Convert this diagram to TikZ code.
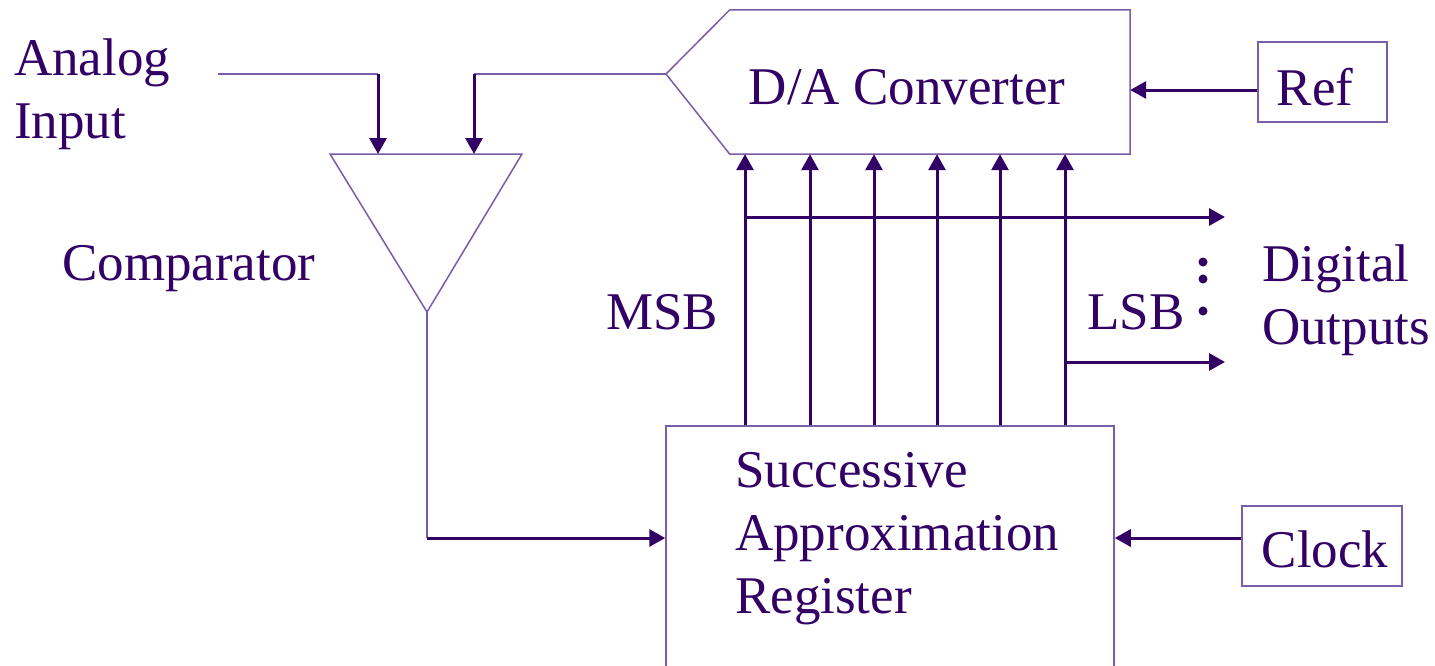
\documentclass[tikz,border=0pt]{standalone}
\usepackage{fontspec}
\setmainfont{Liberation Serif}
\usetikzlibrary{arrows.meta}
\definecolor{ink}{HTML}{330066}
\definecolor{edge}{HTML}{7A5CA8}
\begin{document}
\begin{tikzpicture}[x=1pt,y=-1pt,
  lbl/.style={text=ink,font=\fontsize{53}{63}\selectfont,inner sep=0pt,align=left},
  box/.style={draw=edge,line width=1.5pt,inner sep=0pt},
  wire/.style={draw=ink,line width=3pt},
  thinwire/.style={draw=edge,line width=1.5pt},
  tip/.style={-{Triangle[length=16pt,width=17pt]}},
  ]
\useasboundingbox (0,0) rectangle (1435,665);
\clip (0,0) rectangle (1435,665);
\fill[white] (0,0) rectangle (1435,665);

% blocks
\node[minimum width=400pt,minimum height=144pt,inner sep=0pt] (dac) at (930,82) {};
\coordinate (dacin) at (666,74);
\draw[thinwire,line join=miter] (dac.north west) -- (dac.north east) -- (dac.south east) -- (dac.south west) -- (dacin) -- cycle;
\node[lbl,anchor=base] (dactext) at (907,104) {D/A Converter};

\node[box,minimum width=129pt,minimum height=80pt] (ref) at (1322.5,82) {};
\node[lbl,anchor=base] (reftext) at (1315,105) {Ref};

\node[box,minimum width=160pt,minimum height=80pt] (clock) at (1322,546) {};
\node[lbl,anchor=base] (clocktext) at (1325,567) {Clock};

\node[box,minimum width=448pt,minimum height=274pt] (sar) at (890,563) {};
\node[lbl,anchor=north west] (sartext) at (735,452) {Successive\\Approximation\\Register};

% comparator
\coordinate (cmpL) at (330,154);
\coordinate (cmpR) at (522,154);
\coordinate (cmpO) at (427,312);
\coordinate (cmpA) at (378,154);
\coordinate (cmpB) at (474,154);
\draw[thinwire,line join=miter] (cmpL) -- (cmpR) -- (cmpO) -- cycle;

% labels
\node[lbl,anchor=north west] (analog) at (14,39) {Analog\\Input};
\node[lbl,anchor=base west] (cmplbl) at (62,280) {Comparator};
\node[lbl,anchor=base west] (msb) at (606,329) {MSB};
\node[lbl,anchor=base west] (lsb) at (1087,329) {LSB};
\node[lbl,anchor=north west] (dout) at (1262,245) {Digital\\Outputs};

% analog input
\coordinate (ain) at (218,74);
\draw[thinwire] (ain) -- (cmpA |- ain);
\draw[wire,tip] (cmpA |- ain) -- (cmpA);
% feedback from DAC
\draw[thinwire] (dacin) -- (cmpB |- dacin);
\draw[wire,tip] (cmpB |- dacin) -- (cmpB);
% comparator output to SAR
\coordinate (cmpturn) at (427,538);
\draw[thinwire] (cmpO) -- (cmpturn);
\draw[wire,tip] (cmpturn) -- (sar.west |- cmpturn);

% ref and clock
\draw[wire,tip] (ref.west |- 0,90) -- (dac.east |- 0,90);
\draw[wire,tip] (clock.west |- 0,538) -- (sar.east |- 0,538);

% bit lines
\foreach \bx in {745,810,874,937,1000,1065}
  \draw[wire,tip] (sar.north -| \bx,0) -- (dac.south -| \bx,0);

% digital output buses
\coordinate (msbtap) at (745,217);
\coordinate (lsbtap) at (1065,362);
\coordinate (out1) at (1225,217);
\coordinate (out2) at (1225,362);
\draw[wire,tip] (msbtap) -- (out1);
\draw[wire,tip] (lsbtap) -- (out2);

% dots
\fill[ink] (1203,262) circle (4.5);
\fill[ink] (1203,279) circle (4.5);
\fill[ink] (1203,311) circle (4.5);
\end{tikzpicture}
\end{document}
